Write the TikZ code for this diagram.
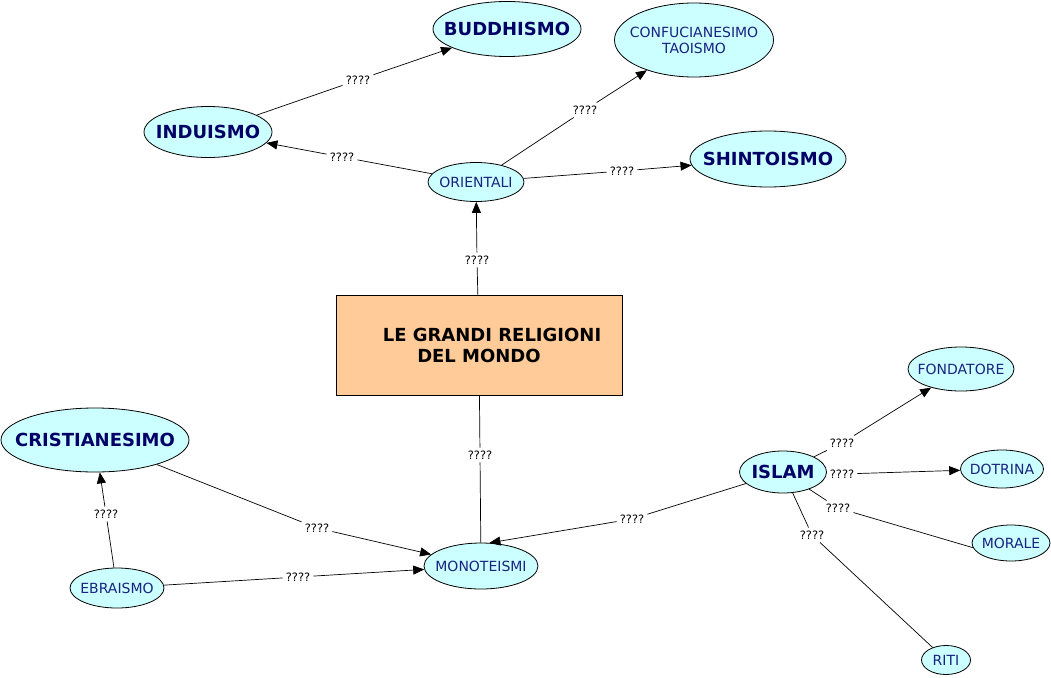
\documentclass[tikz,border=0pt]{standalone}
\usepackage{fontspec}
\setmainfont{DejaVu Sans}
\usepackage{tikz}
\usetikzlibrary{arrows.meta,shapes.geometric}
\definecolor{cmapcyan}{HTML}{CCFFFF}
\definecolor{cmaporange}{HTML}{FFCC99}
\definecolor{cmapnavy}{HTML}{000066}
\definecolor{cmapblue}{HTML}{1A2380}

\begin{document}
\begin{tikzpicture}[x=1pt,y=-1pt,
concept/.style={ellipse,draw,line width=0.8pt,fill=cmapcyan,inner xsep=-15pt,inner ysep=0pt,text=cmapblue,align=center,font=\fontsize{14}{16}\selectfont},
bigconcept/.style={concept,text=cmapnavy,font=\fontsize{18}{21}\selectfont\bfseries},
linklabel/.style={font=\fontsize{11.5}{13}\selectfont,inner sep=3pt},
arrow/.style={-{Triangle[length=11pt,width=9pt]},line width=0.7pt},
link/.style={line width=0.7pt}]

\useasboundingbox (0,0) rectangle (1051,677);

\node[draw,line width=0.8pt,fill=cmaporange,minimum width=286pt,minimum height=100pt,align=center,font=\fontsize{18}{21}\selectfont\bfseries] (Tit) at (479,345) {\hspace*{26pt}LE GRANDI RELIGIONI\\DEL MONDO};

\node[concept,minimum width=96pt,minimum height=39pt] (Ori) at (476,182) {ORIENTALI};

\node[bigconcept,minimum width=128pt,minimum height=51pt] (Ind) at (208,132) {INDUISMO};

\node[bigconcept,minimum width=148pt,minimum height=55pt] (Bud) at (507,29) {BUDDHISMO};

\node[concept,minimum width=159pt,minimum height=74pt] (Con) at (694,40) {CONFUCIANESIMO\\TAOISMO};

\node[bigconcept,minimum width=156pt,minimum height=56pt] (Shi) at (768,159) {SHINTOISMO};

\node[concept,minimum width=114pt,minimum height=46pt] (Mon) at (481,566) {MONOTEISMI};

\node[bigconcept,minimum width=188pt,minimum height=64pt] (Cri) at (95,440) {CRISTIANESIMO};

\node[concept,minimum width=94pt,minimum height=40pt] (Ebr) at (117,588) {EBRAISMO};

\node[bigconcept,minimum width=87pt,minimum height=42pt] (Isl) at (783,472) {ISLAM};

\node[concept,minimum width=106pt,minimum height=44pt] (Fon) at (961,369) {FONDATORE};

\node[concept,minimum width=83pt,minimum height=38pt] (Dot) at (1002,469) {DOTRINA};

\node[concept,minimum width=78pt,minimum height=36pt] (Mor) at (1011,543) {MORALE};

\node[concept,minimum width=49pt,minimum height=29pt] (Rit) at (946,660) {RITI};

\node[linklabel] (q1) at (477,260) {????};

\node[linklabel] (q2) at (342,157) {????};

\node[linklabel] (q3) at (358,80) {????};

\node[linklabel] (q4) at (585,110) {????};

\node[linklabel] (q5) at (622,171) {????};

\node[linklabel] (q6) at (480,455) {????};

\node[linklabel] (q7) at (317,528) {????};

\node[linklabel] (q8) at (106,514) {????};

\node[linklabel] (q9) at (298,577) {????};

\node[linklabel] (q10) at (632,519) {????};

\node[linklabel] (q11) at (842,443) {????};

\node[linklabel] (q12) at (842,474) {????};

\node[linklabel] (q13) at (838,508) {????};

\node[linklabel] (q14) at (812,535) {????};

\draw[link] (Tit) -- (q1);
\draw[arrow] (q1) -- (Ori);

\draw[link] (Ori) -- (q2);
\draw[arrow] (q2) -- (Ind);

\draw[link] (Ind) -- (q3);
\draw[arrow] (q3) -- (Bud);

\draw[link] (Ori) -- (q4);
\draw[arrow] (q4) -- (Con);

\draw[link] (Ori) -- (q5);
\draw[arrow] (q5) -- (Shi);

\draw[link] (Tit) -- (q6);
\draw[link] (q6) -- (Mon);

\draw[link] (Cri) -- (q7);
\draw[arrow] (q7) -- (Mon);

\draw[link] (Ebr) -- (q8);
\draw[arrow] (q8) -- (Cri);

\draw[link] (Ebr) -- (q9);
\draw[arrow] (q9) -- (Mon);

\draw[link] (Isl) -- (q10);
\draw[arrow] (q10) -- (Mon.70);

\draw[link] (Isl) -- (q11);
\draw[arrow] (q11) -- (Fon);

\draw[link] (Isl) -- (q12);
\draw[arrow] (q12) -- (Dot);

\draw[link] (Isl) -- (q13);
\draw[link] (q13) -- (Mor.187);

\draw[link] (Isl) -- (q14);
\draw[link] (q14) -- (Rit);

\end{tikzpicture}
\end{document}
